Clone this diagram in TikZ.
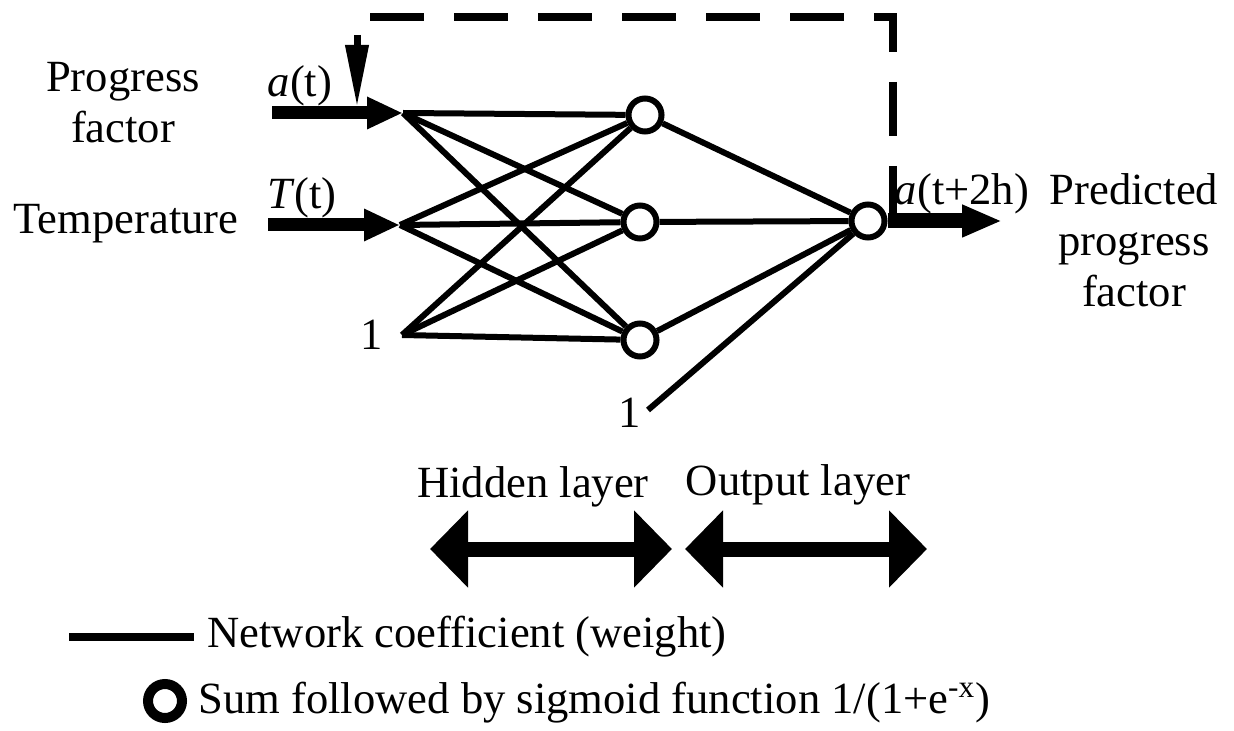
\documentclass[tikz,border=0pt]{standalone}
\usepackage{fontspec}
\setmainfont{Liberation Serif}
\usepackage{tikz}
\usetikzlibrary{arrows.meta,positioning}

\begin{document}
\begin{tikzpicture}[x=0.5pt,y=-0.5pt,
    font=\fontsize{22.3}{25.5}\selectfont,
    neuron/.style={circle, draw, line width=3pt, minimum size=16.5pt, inner sep=0pt},
    weight/.style={line width=3pt},
    inarrow/.style={line width=6.5pt, -{Triangle[length=18pt,width=15pt]}},
    outarrow/.style={line width=7.5pt, -{Triangle[length=20pt,width=15pt]}},
    layerarrow/.style={line width=7.5pt, {Triangle[length=19pt,width=37.5pt]}-{Triangle[length=19pt,width=37.5pt]}},
    feedback/.style={line width=4pt, dash pattern=on 27pt off 15pt},
    lbl/.style={anchor=base, inner sep=0pt, align=center}]
\useasboundingbox (0,0) rectangle (1234,731);

% network
\coordinate (ina) at (403,113);
\coordinate (inT) at (400,225);
\coordinate (inb) at (402,335);
\node[neuron] (h1) at (645,115) {};
\node[neuron] (h2) at (640,222) {};
\node[neuron] (h3) at (640,340) {};
\node[neuron] (out) at (868,221) {};
\coordinate (bo) at (648,410);

\foreach \i in {ina,inT,inb}
    \foreach \j in {h1,h2,h3}
        \draw[weight] (\i) -- (\j);
\foreach \j in {h1,h2,h3,bo}
    \draw[weight] (\j) -- (out);

% inputs and output
\coordinate (sa) at (272,113);
\coordinate (sT) at (268,225);
\coordinate (pe) at (1002,221);
\draw[inarrow] (sa) -- (ina);
\draw[inarrow] (sT) -- (inT);
\draw[outarrow] (out) -- (pe);

% feedback
\coordinate (fs) at (370,17);
\coordinate (fe) at (893,221);
\coordinate (ds) at (357,35);
\coordinate (de) at (357,107);
\draw[feedback] (fs) -| (fe);
\draw[line width=3.5pt, -{Triangle[length=31pt,width=11pt]}] (ds) -- (de);

% labels
\node[lbl] (progress) at (123,143) {Progress\\factor};
\node[lbl] (temp) at (126,234) {Temperature};
\node[lbl] (at) at (300,97) {\textit{a}(t)};
\node[lbl] (Tt) at (302,209) {\textit{T}(t)};
\node[lbl] (one1) at (372,350) {1};
\node[lbl] (one2) at (630,427) {1};
\node[lbl] (aout) at (962,205) {\textit{a}(t+2h)};
\node[lbl] (pred) at (1134,307) {Predicted\\progress\\factor};

% layers
\coordinate (hl) at (430,549);
\coordinate (hr) at (672,549);
\coordinate (ol) at (685,549);
\coordinate (or) at (927,549);
\draw[layerarrow] (hl) -- (hr);
\draw[layerarrow] (ol) -- (or);
\node[lbl] (hidden) at (533,497) {Hidden layer};
\node[lbl] (output) at (798,495) {Output layer};

% legend
\coordinate (ll) at (69,637);
\coordinate (lr) at (194,637);
\draw[line width=4pt] (ll) -- (lr);
\node[lbl, anchor=base west] (wtext) at (207,647) {Network coefficient (weight)};
\node[circle, draw, line width=5pt, minimum size=17pt, inner sep=0pt] (lcirc) at (165,701) {};
\node[lbl, anchor=base west] (stext) at (198,713) {Sum followed by sigmoid function 1/(1+e\textsuperscript{-x})};
\end{tikzpicture}
\end{document}
